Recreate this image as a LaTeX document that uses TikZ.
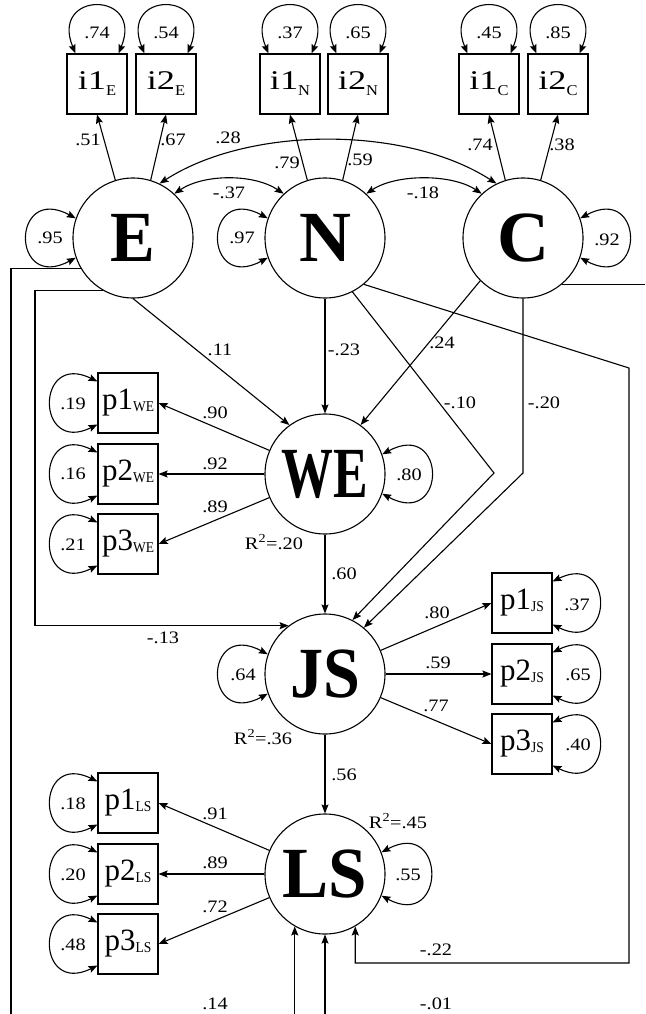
\documentclass[tikz,border=0pt]{standalone}
\usepackage{fontspec}
\setmainfont{Liberation Serif}
\usepackage{graphicx}
\usetikzlibrary{arrows.meta,calc}
\newcommand{\itx}[2]{\scalebox{1.35}[1]{\fontsize{27}{27}\selectfont #1}\raisebox{-6pt}{\fontsize{15}{15}\selectfont\scalebox{1.1}[1]{#2}}}
\newcommand{\ptx}[2]{{\fontsize{31}{31}\selectfont #1}\raisebox{-2pt}{\fontsize{15}{15}\selectfont\scalebox{0.9}[1]{#2}}}
\newcommand{\lb}[1]{\scalebox{1.16}[1]{#1}}
\tikzset{
  lat/.style={circle, draw, line width=1.1pt, minimum size=120pt, inner sep=0pt, font=\fontsize{72}{72}\selectfont\bfseries},
  ind/.style={rectangle, draw, line width=1.1pt, minimum width=60pt, minimum height=60pt, inner sep=0pt},
  lbl/.style={font=\fontsize{17.5}{19}\selectfont, inner sep=0pt},
  ln/.style={line width=1.1pt},
  arr/.style={line width=1.1pt, -{Stealth[length=9pt,width=7pt,inset=1.5pt]}},
  dbl/.style={line width=1.1pt, {Stealth[length=9pt,width=7pt,inset=1.5pt]}-{Stealth[length=9pt,width=7pt,inset=1.5pt]}}
}
\begin{document}
\begin{tikzpicture}[x=1pt,y=-1pt]
\useasboundingbox (0,0) rectangle (645,1014);
% latent variables
\node[lat] (E) at (133,238) {\scalebox{0.93}[1]{E}};
\node[lat] (N) at (325,238) {N};
\node[lat] (C) at (523,238) {C};
\node[lat] (WE) at (325,474) {\scalebox{0.72}[1]{WE}};
\node[lat] (JS) at (325,674) {\scalebox{0.92}[1]{JS}};
\node[lat] (LS) at (325,874) {\scalebox{0.96}[1]{LS}};
% indicators
\node[ind] (i1E) at (97,84) {\itx{i1}{E}};
\node[ind] (i2E) at (166,84) {\itx{i2}{E}};
\node[ind] (i1N) at (290,84) {\itx{i1}{N}};
\node[ind] (i2N) at (358,84) {\itx{i2}{N}};
\node[ind] (i1C) at (489,84) {\itx{i1}{C}};
\node[ind] (i2C) at (558,84) {\itx{i2}{C}};
\node[ind] (p1WE) at (128,403) {\ptx{p1}{WE}};
\node[ind] (p2WE) at (128,474) {\ptx{p2}{WE}};
\node[ind] (p3WE) at (128,544) {\ptx{p3}{WE}};
\node[ind] (p1JS) at (522,603) {\ptx{p1}{JS}};
\node[ind] (p2JS) at (522,674) {\ptx{p2}{JS}};
\node[ind] (p3JS) at (522,744) {\ptx{p3}{JS}};
\node[ind] (p1LS) at (128,803) {\ptx{p1}{LS}};
\node[ind] (p2LS) at (128,874) {\ptx{p2}{LS}};
\node[ind] (p3LS) at (128,944) {\ptx{p3}{LS}};
% loadings top
\draw[arr] (E.107) -- (i1E.south);
\draw[arr] (E.73) -- (i2E.south);
\draw[arr] (N.107) -- (i1N.south);
\draw[arr] (N.73) -- (i2N.south);
\draw[arr] (C.107) -- (i1C.south);
\draw[arr] (C.73) -- (i2C.south);
% covariances
\draw[dbl] (E.47) .. controls +(30,-20) and +(-30,-20) .. (N.133);
\draw[dbl] (N.47) .. controls +(30,-20) and +(-30,-20) .. (C.133);
\draw[dbl] (E.64) .. controls +(90,-58) and +(-90,-58) .. (C.116);
% top box variance loops
\foreach \b in {i1E,i2E,i1N,i2N,i1C,i2C}{
  \draw[dbl] ($(\b.north)+(-21.5,0)$) .. controls +(-26,-63) and +(26,-63) .. ($(\b.north)+(21.5,0)$);
}
% left box loops
\foreach \b in {p1WE,p2WE,p3WE,p1LS,p2LS,p3LS}{
  \draw[dbl] ($(\b.west)+(0,21.5)$) .. controls +(-62,30.5) and +(-62,-30.5) .. ($(\b.west)+(0,-21.5)$);
}
% right box loops
\foreach \b in {p1JS,p2JS,p3JS}{
  \draw[dbl] ($(\b.east)+(0,21.5)$) .. controls +(62,30.5) and +(62,-30.5) .. ($(\b.east)+(0,-21.5)$);
}
% latent loops
\draw[dbl] (E.199) .. controls +(-65,35) and +(-65,-35) .. (E.161);
\draw[dbl] (N.199) .. controls +(-65,35) and +(-65,-35) .. (N.161);
\draw[dbl] (JS.199) .. controls +(-65,35) and +(-65,-35) .. (JS.161);
\draw[dbl] (C.341) .. controls +(65,35) and +(65,-35) .. (C.19);
\draw[dbl] (WE.341) .. controls +(65,35) and +(65,-35) .. (WE.19);
\draw[dbl] (LS.339) .. controls +(65,35) and +(65,-35) .. (LS.21);
% structural paths
\coordinate (nb) at (494,473);
\coordinate (cb) at (523,473);
\coordinate (rt) at (629,368);
\coordinate (rb) at (629,963);
\coordinate (cre) at (645,0);
\coordinate (xl1) at (11,1014);
\coordinate (xl2) at (35,0);
\coordinate (bot) at (0,1014);
\draw[arr] (E.south) -- (WE.126);
\draw[arr] (N.south) -- (WE.north);
\draw[arr] (C.225) -- (WE.54);
\draw[arr] (N.297) -- (nb) -- (JS.63);
\draw[arr] (C.south) -- (cb) -- (JS.50);
\draw[arr] (N.310) -- (rt) -- (rb) -- (rb -| LS.300) -- (LS.300);
\draw[ln] (C.310) -- (C.310 -| cre);
\draw[ln] (E.210) -- (E.210 -| xl1) -- (xl1);
\draw[arr] (E.240) -- (E.240 -| xl2) -- (xl2 |- JS.127) -- (JS.127);
\draw[arr] (LS.240 |- bot) -- (LS.240);
\draw[arr] (LS.south |- bot) -- (LS.south);
\draw[arr] (WE.157) -- (p1WE.east);
\draw[arr] (WE.west) -- (p2WE.east);
\draw[arr] (WE.203) -- (p3WE.east);
\draw[arr] (WE.south) -- (JS.north);
\draw[arr] (JS.23) -- (p1JS.west);
\draw[arr] (JS.east) -- (p2JS.west);
\draw[arr] (JS.337) -- (p3JS.west);
\draw[arr] (JS.south) -- (LS.north);
\draw[arr] (LS.157) -- (p1LS.east);
\draw[arr] (LS.west) -- (p2LS.east);
\draw[arr] (LS.203) -- (p3LS.east);
% labels
\node[lbl] (l1) at (97,33) {\lb{.74}};
\node[lbl] (l2) at (166,33) {\lb{.54}};
\node[lbl] (l3) at (290,33) {\lb{.37}};
\node[lbl] (l4) at (358,33) {\lb{.65}};
\node[lbl] (l5) at (489,33) {\lb{.45}};
\node[lbl] (l6) at (558,33) {\lb{.85}};
\node[lbl] (l7) at (88,140) {\lb{.51}};
\node[lbl] (l8) at (173,140) {\lb{.67}};
\node[lbl] (l9) at (287,163) {\lb{.79}};
\node[lbl] (l10) at (360,160) {\lb{.59}};
\node[lbl] (l11) at (480,145) {\lb{.74}};
\node[lbl] (l12) at (562,145) {\lb{.38}};
\node[lbl] (l13) at (228,138) {\lb{.28}};
\node[lbl] (l14) at (229,193) {\lb{-.37}};
\node[lbl] (l15) at (423,193) {\lb{-.18}};
\node[lbl] (l16) at (50,238) {\lb{.95}};
\node[lbl] (l17) at (242,238) {\lb{.97}};
\node[lbl] (l18) at (607,240) {\lb{.92}};
\node[lbl] (l19) at (220,350) {\lb{.11}};
\node[lbl] (l20) at (344,350) {\lb{-.23}};
\node[lbl] (l21) at (442,343) {\lb{.24}};
\node[lbl] (l22) at (460,403) {\lb{-.10}};
\node[lbl] (l23) at (544,403) {\lb{-.20}};
\node[lbl] (l24) at (73,404) {\lb{.19}};
\node[lbl] (l25) at (73,474) {\lb{.16}};
\node[lbl] (l26) at (73,545) {\lb{.21}};
\node[lbl] (l27) at (215,413) {\lb{.90}};
\node[lbl] (l28) at (215,464) {\lb{.92}};
\node[lbl] (l29) at (215,507) {\lb{.89}};
\node[lbl] (l30) at (409,475) {\lb{.80}};
\node[lbl] (l31) at (274,542) {\lb{R\textsuperscript{2}=.20}};
\node[lbl] (l32) at (344,574) {\lb{.60}};
\node[lbl] (l33) at (163,638) {\lb{-.13}};
\node[lbl] (l34) at (437,613) {\lb{.80}};
\node[lbl] (l35) at (577,605) {\lb{.37}};
\node[lbl] (l36) at (243,675) {\lb{.64}};
\node[lbl] (l37) at (438,663) {\lb{.59}};
\node[lbl] (l38) at (578,675) {\lb{.65}};
\node[lbl] (l39) at (436,706) {\lb{.77}};
\node[lbl] (l40) at (578,745) {\lb{.40}};
\node[lbl] (l41) at (263,737) {\lb{R\textsuperscript{2}=.36}};
\node[lbl] (l42) at (344,775) {\lb{.56}};
\node[lbl] (l43) at (73,804) {\lb{.18}};
\node[lbl] (l44) at (215,814) {\lb{.91}};
\node[lbl] (l45) at (398,821) {\lb{R\textsuperscript{2}=.45}};
\node[lbl] (l46) at (73,875) {\lb{.20}};
\node[lbl] (l47) at (215,863) {\lb{.89}};
\node[lbl] (l48) at (408,875) {\lb{.55}};
\node[lbl] (l49) at (215,907) {\lb{.72}};
\node[lbl] (l50) at (73,945) {\lb{.48}};
\node[lbl] (l51) at (436,950) {\lb{-.22}};
\node[lbl] (l52) at (215,1004) {\lb{.14}};
\node[lbl] (l53) at (436,1004) {\lb{-.01}};
\end{tikzpicture}
\end{document}
